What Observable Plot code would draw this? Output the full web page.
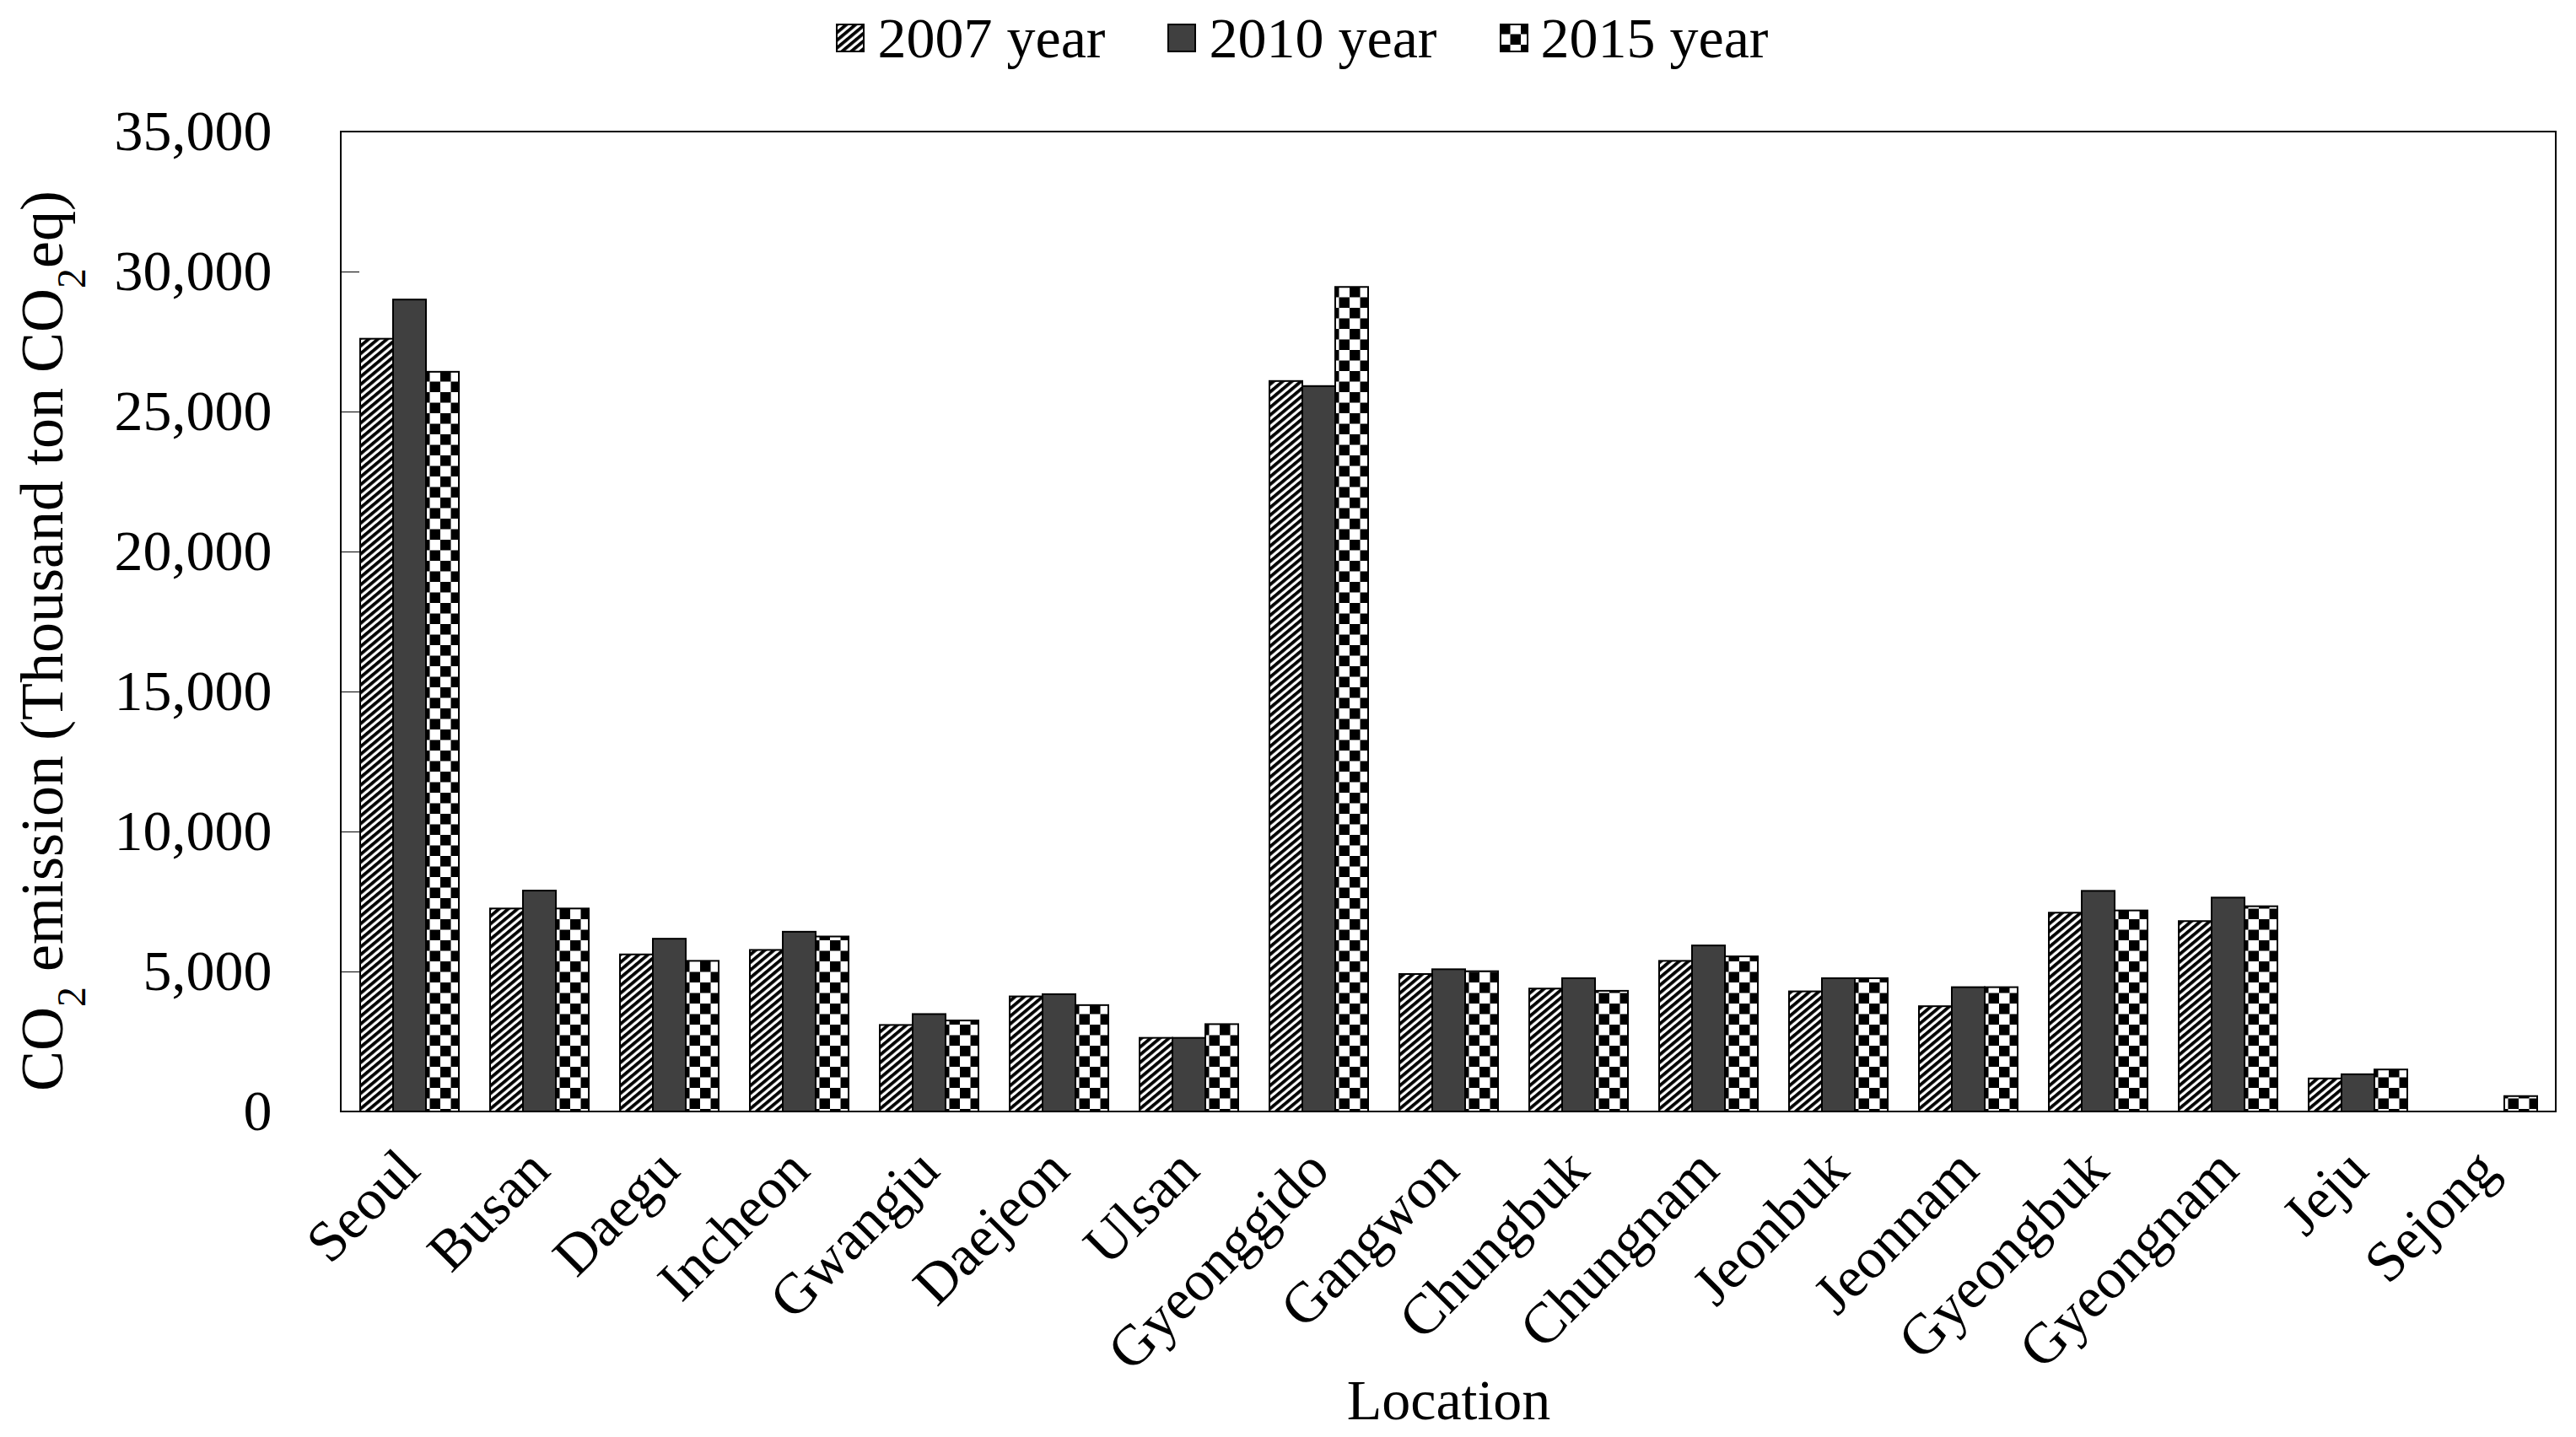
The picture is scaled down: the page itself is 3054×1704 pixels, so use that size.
<!DOCTYPE html>
<html><head><meta charset="utf-8">
<script src="https://cdn.jsdelivr.net/npm/d3@7"></script>
<script src="https://cdn.jsdelivr.net/npm/@observablehq/plot@0.6"></script>
<style>
html,body{margin:0;padding:0;background:#fff;}
body{width:3054px;height:1704px;overflow:hidden;font-family:"Liberation Serif","Times New Roman",serif;color:#000;}
#legend{height:90px;display:flex;justify-content:center;align-items:center;gap:74px;font-size:68px;padding-left:34px;box-sizing:border-box;}
.item{display:flex;align-items:center;gap:15px;line-height:1;}
</style></head><body>
<svg width="0" height="0" style="position:absolute">
<defs>
<pattern id="p2007" patternUnits="userSpaceOnUse" width="7" height="7" patternTransform="rotate(-40)">
<rect width="7" height="7" fill="#fff"/><rect width="7" height="3.8" fill="#000"/>
</pattern>
<pattern id="p2015" patternUnits="userSpaceOnUse" width="25" height="25">
<rect width="25" height="25" fill="#fff"/><rect width="12.5" height="12.5" fill="#000"/><rect x="12.5" y="12.5" width="12.5" height="12.5" fill="#000"/>
</pattern>
</defs></svg>
<div id="legend"></div>
<div id="chart"></div>
<script>
const locations = ["Seoul","Busan","Daegu","Incheon","Gwangju","Daejeon","Ulsan","Gyeonggido","Gangwon","Chungbuk","Chungnam","Jeonbuk","Jeonnam","Gyeongbuk","Gyeongnam","Jeju","Sejong"];
const years = ["2007 year","2010 year","2015 year"];
const v2007 = [27600, 7250, 5610, 5770, 3090, 4110, 2630, 26090, 4910, 4390, 5380, 4290, 3760, 7100, 6800, 1180, null];
const v2010 = [29000, 7890, 6170, 6420, 3480, 4190, 2630, 25910, 5080, 4760, 5930, 4760, 4440, 7880, 7640, 1330, null];
const v2015 = [26420, 7250, 5380, 6250, 3250, 3800, 3120, 29450, 5010, 4310, 5540, 4760, 4440, 7180, 7330, 1500, 550];
const yTicks = [0, 5000, 10000, 15000, 20000, 25000, 30000, 35000];
const fills = ["url(#p2007)", "#404040", "url(#p2015)"];

const series = [v2007, v2010, v2015];
const data = locations.flatMap((loc, i) => years.map((yr, j) => ({location: loc, year: yr, value: series[j][i]})));

// legend
const legend = d3.select("#legend");
years.forEach((yr, j) => {
  const it = legend.append("div").attr("class", "item");
  const s = it.append("svg").attr("width", 34).attr("height", 34);
  s.append("rect").attr("x", 1).attr("y", 1).attr("width", 32).attr("height", 32)
    .attr("fill", fills[j]).attr("stroke", "#000").attr("stroke-width", 2);
  it.append("span").text(yr);
});

const W = 3054, H = 1614, mT = 66, mL = 404, mR = 24, mB = 386;
const chart = Plot.plot({
  width: W, height: H,
  marginTop: mT, marginLeft: mL, marginRight: mR, marginBottom: mB,
  style: {fontFamily: '"Liberation Serif", "Times New Roman", serif', fontSize: "68px", color: "#000", background: "#fff", overflow: "visible"},
  facet: {data, x: "location"},
  fx: {domain: locations, paddingInner: 0.236, paddingOuter: 0.118, axis: "bottom", tickSize: 0, tickPadding: 57, tickRotate: -45, label: "Location", labelAnchor: "center", labelOffset: 364},
  x: {domain: years, axis: null, padding: 0},
  y: {domain: [0, 35000], ticks: yTicks, tickFormat: d3.format(","), tickSize: 21, tickPadding: 83, label: null},
  marks: years.map((yr, j) => Plot.barY(data, {
    filter: d => d.year === yr && d.value != null,
    x: "year", y: "value", fill: fills[j], stroke: "#000", strokeWidth: 2
  }))
});
document.getElementById("chart").appendChild(chart);

const svg = d3.select(chart);
svg.append("rect").attr("x", mL).attr("y", mT).attr("width", W - mL - mR).attr("height", H - mT - mB)
  .attr("fill", "none").attr("stroke", "#000").attr("stroke-width", 2);
const t = svg.append("text")
  .attr("transform", `translate(74,${mT + (H - mT - mB) / 2 + 23}) rotate(-90)`)
  .attr("text-anchor", "middle").attr("font-size", 72).attr("fill", "#000");
t.append("tspan").text("CO");
t.append("tspan").attr("baseline-shift", "sub").attr("font-size", 48).text("2");
t.append("tspan").text(" emission (Thousand ton CO");
t.append("tspan").attr("baseline-shift", "sub").attr("font-size", 48).text("2");
t.append("tspan").text("eq)");
</script>
</body></html>
